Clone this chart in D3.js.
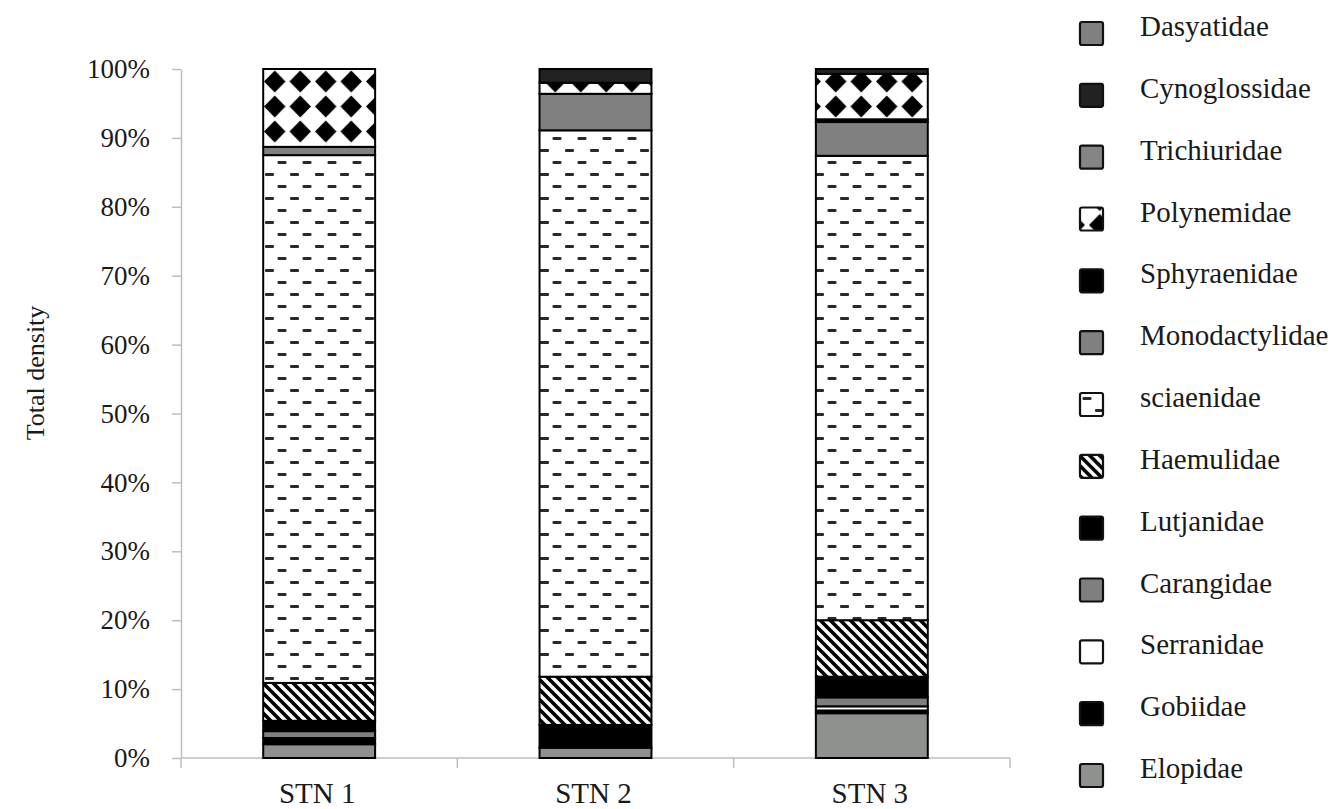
<!DOCTYPE html>
<html>
<head>
<meta charset="utf-8">
<script src="https://cdn.jsdelivr.net/npm/d3@7"></script>
<style>
  html, body { margin: 0; padding: 0; background: #fff; }
  svg { display: block; }
  text { font-family: "Liberation Serif", "Times New Roman", serif; fill: #1a1a1a; }
</style>
</head>
<body>
<svg id="chart" width="1339" height="809"></svg>
<script>
// ---- data ----
const stations = ["STN 1", "STN 2", "STN 3"];
// stacking order, bottom to top
const families = ["Elopidae", "Gobiidae", "Serranidae", "Carangidae", "Lutjanidae", "Haemulidae",
  "sciaenidae", "Monodactylidae", "Sphyraenidae", "Polynemidae", "Trichiuridae", "Cynoglossidae", "Dasyatidae"];
// percentage values per station, same order as families
const stn1 = [2.0, 0.9, 0.0, 1.0, 1.5, 5.5, 76.6, 1.2, 0.0, 11.3, 0.0, 0.0, 0.0];
const stn2 = [1.5, 0.0, 0.0, 0.0, 3.3, 7.0, 79.3, 5.3, 0.0, 1.6, 0.0, 2.0, 0.0];
const stn3 = [6.5, 0.4, 0.6, 1.3, 3.0, 8.2, 67.4, 4.9, 0.4, 6.6, 0.0, 0.7, 0.0];
const yTicks = [0, 10, 20, 30, 40, 50, 60, 70, 80, 90, 100];
// legend order, top to bottom
const legendOrder = ["Dasyatidae", "Cynoglossidae", "Trichiuridae", "Polynemidae", "Sphyraenidae",
  "Monodactylidae", "sciaenidae", "Haemulidae", "Lutjanidae", "Carangidae", "Serranidae", "Gobiidae", "Elopidae"];

const fills = {
  Elopidae: "#8e918e", Gobiidae: "#000", Serranidae: "#fff", Carangidae: "#7f7f7f",
  Lutjanidae: "#000", Haemulidae: "url(#hatch)", sciaenidae: "url(#dash)",
  Monodactylidae: "#808080", Sphyraenidae: "#000", Polynemidae: "url(#diamond)",
  Trichiuridae: "#858585", Cynoglossidae: "#222", Dasyatidae: "#808080"
};

const rows = stations.map((s, i) => {
  const vals = [stn1, stn2, stn3][i];
  const o = { station: s };
  families.forEach((f, j) => o[f] = vals[j]);
  return o;
});

const svg = d3.select("#chart");

// ---- patterns ----
const defs = svg.append("defs");
const hatch = defs.append("pattern").attr("id", "hatch").attr("patternUnits", "userSpaceOnUse")
  .attr("width", 10).attr("height", 10);
hatch.append("rect").attr("width", 10).attr("height", 10).attr("fill", "#fff");
hatch.append("path").attr("d", "M0,0L10,10M-5,5L5,15M5,-5L15,5M-10,0L0,10M10,0L20,10")
  .attr("stroke", "#000").attr("stroke-width", 3.6);

const dash = defs.append("pattern").attr("id", "dash").attr("patternUnits", "userSpaceOnUse")
  .attr("width", 25).attr("height", 24).attr("x", 262).attr("y", 0);
dash.append("rect").attr("width", 25).attr("height", 24).attr("fill", "#fff");
dash.append("rect").attr("x", 3).attr("y", 5).attr("width", 9).attr("height", 3).attr("rx", 1).attr("fill", "#2a2a2a");
dash.append("rect").attr("x", 15.5).attr("y", 17).attr("width", 9).attr("height", 3).attr("rx", 1).attr("fill", "#2a2a2a");

const diamond = defs.append("pattern").attr("id", "diamond").attr("patternUnits", "userSpaceOnUse")
  .attr("width", 25.5).attr("height", 25).attr("x", 262).attr("y", 69);
diamond.append("rect").attr("width", 25.5).attr("height", 25).attr("fill", "#fff");
diamond.append("path").attr("d", "M12.75,1.5L23.5,12.5L12.75,23.5L2,12.5Z").attr("fill", "#000");

// ---- scales ----
const x = d3.scaleBand().domain(stations).range([181, 1010]).paddingInner(0.595).paddingOuter(0.2975);
const y = d3.scaleLinear().domain([0, 100]).range([758, 69]);

const axisColor = "#bdbdbd";

// y axis
const gy = svg.append("g").attr("transform", "translate(181,0)")
  .call(d3.axisLeft(y).tickValues(yTicks).tickFormat(d => d + "%").tickSize(9).tickSizeOuter(0));
gy.select(".domain").attr("stroke", axisColor).attr("stroke-width", 1.5);
gy.selectAll(".tick line").attr("stroke", axisColor).attr("stroke-width", 1.5);
gy.selectAll(".tick text").attr("x", -31).attr("font-size", 27)
  .attr("font-family", "Liberation Serif").attr("fill", "#1a1a1a");

// x axis line and boundary ticks
svg.append("line").attr("x1", 181).attr("x2", 1010).attr("y1", y(0)).attr("y2", y(0))
  .attr("stroke", axisColor).attr("stroke-width", 1.5);
const step = x.step();
const bounds = stations.map(s => x(s) - step * x.paddingInner() / 2).concat([x(stations[2]) + x.bandwidth() + step * x.paddingInner() / 2]);
svg.selectAll(".xtick").data(bounds).join("line")
  .attr("x1", d => d).attr("x2", d => d).attr("y1", y(0)).attr("y2", y(0) + 10)
  .attr("stroke", axisColor).attr("stroke-width", 1.5);
svg.selectAll(".xlab").data(stations).join("text")
  .attr("x", d => x(d) + x.bandwidth() / 2 - 2).attr("y", 803)
  .attr("text-anchor", "middle").attr("font-size", 29).text(d => d);

// axis title
svg.append("text").attr("transform", "translate(44,373) rotate(-90)")
  .attr("text-anchor", "middle").attr("font-size", 26).text("Total density");

// ---- bars ----
const stack = d3.stack().keys(families);
const series = stack(rows);
svg.append("g").selectAll("g").data(series).join("g")
  .attr("fill", d => fills[d.key])
  .selectAll("rect").data(d => d.filter(p => p[1] - p[0] > 0)).join("rect")
  .attr("x", d => x(d.data.station))
  .attr("width", x.bandwidth())
  .attr("y", d => y(d[1]))
  .attr("height", d => y(d[0]) - y(d[1]))
  .attr("stroke", "#000").attr("stroke-width", 2);

// ---- legend ----
const lg = svg.append("g");
const legendY = d3.scalePoint().domain(legendOrder).range([33, 775]);
const items = lg.selectAll("g").data(legendOrder).join("g")
  .attr("transform", d => `translate(1080,${legendY(d)})`);
items.append("rect").attr("x", 0).attr("y", -11).attr("width", 23).attr("height", 23)
  .attr("rx", 2).attr("fill", d => fills[d]).attr("stroke", "#111").attr("stroke-width", 2.2);
items.append("text").attr("x", 60).attr("y", 3).attr("font-size", 29).text(d => d);
</script>
</body>
</html>
